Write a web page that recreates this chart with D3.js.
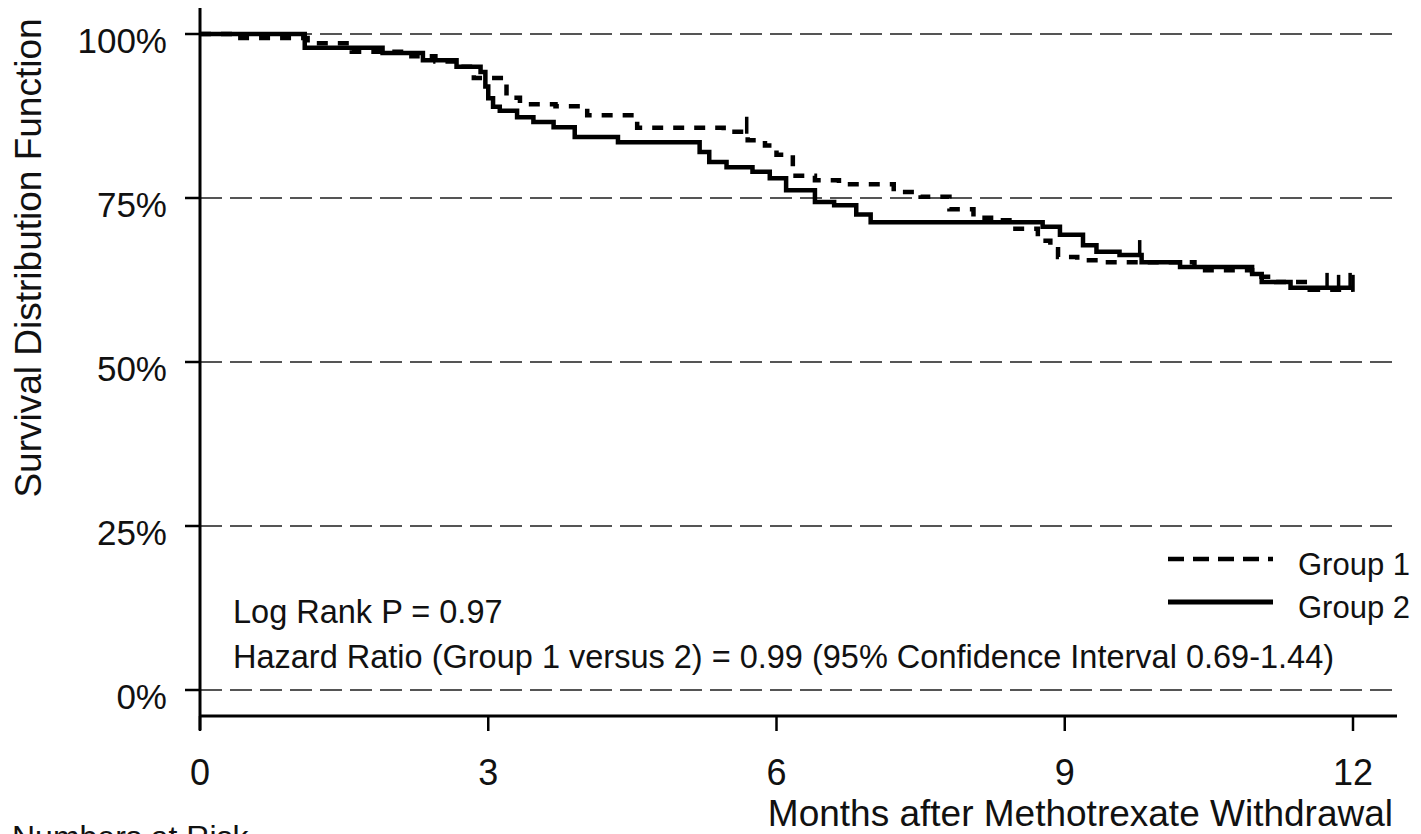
<!DOCTYPE html>
<html>
<head>
<meta charset="utf-8">
<script src="https://cdn.jsdelivr.net/npm/d3@7/dist/d3.min.js"></script>
<style>
  html, body { margin: 0; padding: 0; background: #fff; }
  svg { display: block; font-family: "Liberation Sans", Arial, Helvetica, sans-serif; }
</style>
</head>
<body>
<svg id="chart" width="1421" height="834"></svg>
<script>
// Kaplan-Meier step data (months, survival %)
const group1Time = [0, 0.42, 1.12, 1.58, 2.2, 2.45, 2.72, 2.85, 3.19, 3.33, 3.7, 4.03, 4.55, 5.45, 5.7, 5.88, 6.0, 6.17, 6.4, 6.65, 7.22, 7.5, 7.8, 8.05, 8.28, 8.45, 8.72, 8.85, 8.93, 9.13, 9.35, 10.35, 10.95, 11.2, 11.55];
const group1Surv = [100, 99.4, 98.6, 97.3, 96.6, 95.8, 95.0, 93.3, 90.3, 89.3, 89.0, 87.6, 85.7, 85.1, 83.8, 83.0, 81.6, 78.4, 77.7, 77.1, 75.9, 75.2, 73.3, 72.0, 71.6, 70.3, 68.5, 67.2, 66.0, 65.5, 65.2, 64.0, 63.0, 62.2, 61.0];
const group1Censor = [5.69, 11.85, 12.0];

const group2Time = [0, 1.09, 1.9, 2.32, 2.67, 2.92, 2.97, 3.0, 3.05, 3.12, 3.3, 3.47, 3.68, 3.9, 4.35, 5.2, 5.3, 5.48, 5.75, 5.93, 6.1, 6.4, 6.6, 6.83, 6.98, 8.77, 8.95, 9.19, 9.33, 9.57, 9.8, 10.2, 10.95, 11.05, 11.35];
const group2Surv = [100, 97.9, 97.1, 96.0, 95.0, 94.2, 92.0, 90.2, 88.9, 88.3, 87.3, 86.6, 85.8, 84.3, 83.5, 82.0, 80.5, 79.7, 79.0, 78.0, 76.2, 74.4, 73.9, 72.5, 71.3, 70.6, 69.4, 67.8, 66.8, 66.3, 65.2, 64.5, 63.4, 62.2, 61.3];
const group2Censor = [9.78, 11.73, 11.97];

const xTicks = [0, 3, 6, 9, 12];
const yTicks = [0, 25, 50, 75, 100];
const groupNames = ["Group 1", "Group 2"];
const xTitle = "Months after Methotrexate Withdrawal";
const yTitle = "Survival Distribution Function";
const statLines = ["Log Rank P = 0.97", "Hazard Ratio (Group 1 versus 2) = 0.99 (95% Confidence Interval 0.69-1.44)"];
const riskTitle = "Numbers at Risk";

const svg = d3.select("#chart");

const x = d3.scaleLinear().domain([0, 12]).range([200, 1353]);
const y = d3.scaleLinear().domain([0, 100]).range([690, 34]);

const axisX0 = 200, axisY0 = 716, axisRight = 1397, axisTop = 8;

// dashed horizontal reference lines
svg.append("g").selectAll("line").data(yTicks).join("line")
  .attr("x1", axisX0).attr("x2", 1395)
  .attr("y1", d => y(d)).attr("y2", d => y(d))
  .attr("stroke", "#555").attr("stroke-width", 2)
  .attr("stroke-dasharray", "22,8");

// survival curves
function stepData(times, surv) {
  const pts = times.map((t, i) => [t, surv[i]]);
  pts.push([12, surv[surv.length - 1]]);
  return pts;
}
const line = d3.line().x(d => x(d[0])).y(d => y(d[1])).curve(d3.curveStepAfter);

function survAt(times, surv, t) {
  let s = surv[0];
  for (let i = 0; i < times.length; i++) if (times[i] <= t) s = surv[i];
  return s;
}

const series = [
  { time: group1Time, surv: group1Surv, censor: group1Censor, dash: "11,10" },
  { time: group2Time, surv: group2Surv, censor: group2Censor, dash: null }
];

series.forEach(s => {
  svg.append("path")
    .datum(stepData(s.time, s.surv))
    .attr("d", line)
    .attr("fill", "none")
    .attr("stroke", "#000")
    .attr("stroke-width", 4.5)
    .attr("stroke-dasharray", s.dash);
  svg.append("g").selectAll("line").data(s.censor).join("line")
    .attr("x1", d => x(d)).attr("x2", d => x(d))
    .attr("y1", d => y(survAt(s.time, s.surv, d)) + 2)
    .attr("y2", d => y(survAt(s.time, s.surv, d)) - 15)
    .attr("stroke", "#000").attr("stroke-width", 3.5);
});

// axes
const axisG = svg.append("g").attr("stroke", "#000").attr("stroke-width", 3);
axisG.append("line").attr("x1", axisX0).attr("x2", axisX0).attr("y1", axisTop).attr("y2", 730);
axisG.append("line").attr("x1", axisX0).attr("x2", axisRight).attr("y1", axisY0).attr("y2", axisY0);
axisG.selectAll(".yt").data(yTicks).join("line").attr("class", "yt")
  .attr("x1", 185).attr("x2", axisX0)
  .attr("y1", d => y(d)).attr("y2", d => y(d)).attr("stroke-width", 2.5);
axisG.selectAll(".xt").data(xTicks).join("line").attr("class", "xt")
  .attr("x1", d => x(d)).attr("x2", d => x(d))
  .attr("y1", axisY0).attr("y2", 731).attr("stroke-width", 2.5);

svg.append("g").selectAll("text").data(yTicks).join("text")
  .attr("x", 167).attr("y", d => y(d) + 19)
  .attr("text-anchor", "end").attr("font-size", 35).attr("fill", "#111")
  .text(d => d + "%");

svg.append("g").selectAll("text").data(xTicks).join("text")
  .attr("x", d => x(d)).attr("y", 785)
  .attr("text-anchor", "middle").attr("font-size", 36).attr("fill", "#111")
  .text(d => d);

svg.append("text")
  .attr("transform", "translate(41,258) rotate(-90)")
  .attr("text-anchor", "middle").attr("font-size", 37).attr("fill", "#111")
  .text(yTitle);

svg.append("text")
  .attr("x", 1393).attr("y", 826)
  .attr("text-anchor", "end").attr("font-size", 37).attr("fill", "#111")
  .text(xTitle);

svg.append("text")
  .attr("x", 12).attr("y", 848)
  .attr("font-size", 32).attr("fill", "#111")
  .text(riskTitle);

// statistics annotation
svg.append("g").selectAll("text").data(statLines).join("text")
  .attr("x", 233).attr("y", (d, i) => 623 + i * 45)
  .attr("font-size", 32.5).attr("fill", "#111")
  .text(d => d);

// legend
const legend = svg.append("g");
groupNames.forEach((name, i) => {
  const ly = 559 + i * 43;
  legend.append("line")
    .attr("x1", 1168).attr("x2", 1273).attr("y1", ly).attr("y2", ly)
    .attr("stroke", "#000").attr("stroke-width", i === 0 ? 4.5 : 5)
    .attr("stroke-dasharray", i === 0 ? "16,9" : null);
  legend.append("text")
    .attr("x", 1298).attr("y", ly + 16)
    .attr("font-size", 31).attr("fill", "#111")
    .text(name);
});
</script>
</body>
</html>
